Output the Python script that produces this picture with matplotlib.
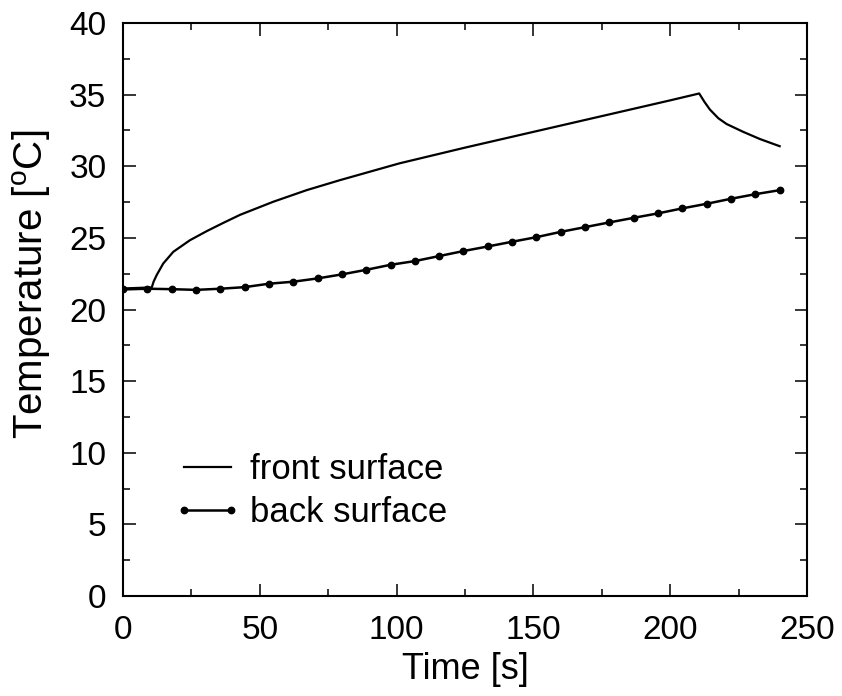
import matplotlib
matplotlib.use("Agg")
import matplotlib.pyplot as plt
import numpy as np
from matplotlib.ticker import MultipleLocator

plt.rcParams['font.family'] = ['Liberation Sans', 'DejaVu Sans']
plt.rcParams['mathtext.fontset'] = 'custom'
plt.rcParams['mathtext.rm'] = 'Liberation Sans'

# Front surface temperature history (heating until ~210 s, then cooling)
front_time = [0, 10.5, 11.2, 12.3, 14.7, 18.4, 24.5, 30.6, 36.7, 42.8, 54.9, 67.1,
              79.3, 101, 125, 150, 175, 200, 210.6, 212.5, 214.5, 217.6, 220.6,
              226.7, 232.8, 240]
front_temp = [21.47, 21.54, 21.95, 22.40, 23.21, 24.03, 24.84, 25.47, 26.05, 26.61,
              27.52, 28.33, 29.03, 30.2, 31.3, 32.4, 33.5, 34.6, 35.08, 34.5, 33.96,
              33.35, 32.95, 32.4, 31.9, 31.4]

# Back surface temperature, sampled every 240/27 s
back_time = list(np.linspace(0, 240, 28))
back_temp = [21.40, 21.45, 21.42, 21.37, 21.45, 21.56, 21.80, 21.94, 22.17, 22.45,
             22.77, 23.12, 23.38, 23.73, 24.08, 24.40, 24.73, 25.05, 25.42, 25.75,
             26.08, 26.40, 26.71, 27.06, 27.38, 27.73, 28.05, 28.33]

x_ticks = [0, 50, 100, 150, 200, 250]
y_ticks = [0, 5, 10, 15, 20, 25, 30, 35, 40]

fig = plt.figure(figsize=(8.42, 6.96), dpi=100)
ax = fig.add_axes([123 / 842, 1 - 596 / 696, (807 - 123) / 842, (596 - 23) / 696])

ax.plot(front_time, front_temp, color='black', lw=1.6, label='front surface')
ax.plot(back_time, back_temp, color='black', lw=1.8, marker='o', markersize=4.6,
        label='back surface')

ax.set_xlim(0, 250)
ax.set_ylim(0, 40)
ax.set_xticks(x_ticks)
ax.set_yticks(y_ticks)
ax.xaxis.set_minor_locator(MultipleLocator(25))
ax.yaxis.set_minor_locator(MultipleLocator(2.5))
ax.tick_params(which='both', direction='in', top=True, right=True, labelsize=24,
               width=1.1)
ax.tick_params(which='major', length=9)
ax.tick_params(which='minor', length=5)
ax.tick_params(axis='x', pad=14)
ax.tick_params(axis='y', pad=12)
for s in ax.spines.values():
    s.set_linewidth(1.5)

ax.set_xlabel('Time [s]', fontsize=26, labelpad=4)
ax.set_ylabel(r'Temperature [$^\mathrm{o}$C]', fontsize=29)
ax.yaxis.set_label_coords(-0.102, 0.543)

ax.legend(loc='lower left', bbox_to_anchor=(0.028, 0.062), frameon=False,
          fontsize=25, numpoints=2, handlelength=1.96, handletextpad=0.26,
          labelspacing=0.3)

fig.savefig('out.png', dpi=100)
